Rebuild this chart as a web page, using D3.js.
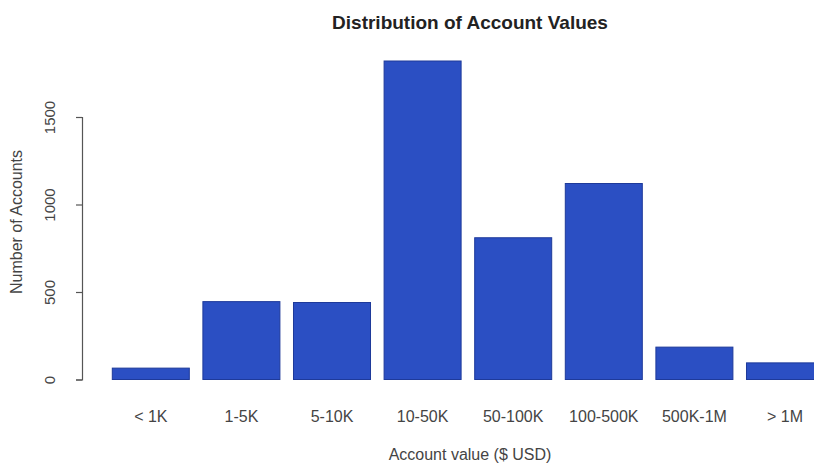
<!DOCTYPE html>
<html><head><meta charset="utf-8">
<script src="https://cdn.jsdelivr.net/npm/d3@7"></script>
<style>body{margin:0;background:#fff}svg{display:block}text{font-family:"Liberation Sans",Arial,sans-serif}</style>
</head><body>
<svg id="c" width="814" height="464"></svg>
<script>
const categories = ["< 1K","1-5K","5-10K","10-50K","50-100K","100-500K","500K-1M","> 1M"];
const counts = [65, 445, 440, 1820, 810, 1120, 185, 95];
const yTicks = [0, 500, 1000, 1500];
const title = "Distribution of Account Values";
const xTitle = "Account value ($ USD)";
const yTitle = "Number of Accounts";

const svg = d3.select("#c");
const x = d3.scaleBand().domain(categories).range([105.5, 830.3]).paddingInner(0.15).paddingOuter(0.075);
const y = d3.scaleLinear().domain([0, 1500]).range([379.5, 117]);

svg.append("g").selectAll("rect").data(categories).join("rect")
  .attr("x", d => x(d)).attr("width", x.bandwidth())
  .attr("y", (d,i) => y(counts[i])).attr("height", (d,i) => y(0) - y(counts[i]))
  .attr("fill", "#2b4fc3").attr("stroke", "#1e3a9a").attr("stroke-width", 1);

const yAxis = svg.append("g").attr("transform", "translate(82,0)")
  .call(d3.axisLeft(y).tickValues(yTicks).tickFormat(d3.format("d")).tickSize(6).tickSizeOuter(6));
yAxis.select(".domain").attr("stroke", "#555").attr("stroke-width", 1.2);
yAxis.selectAll(".tick line").attr("stroke", "#555").attr("stroke-width", 1.2);
yAxis.selectAll(".tick text").attr("transform", "rotate(-90)").attr("x", 0).attr("y", -27)
  .attr("dy", "0").attr("text-anchor", "middle").attr("font-size", 15).attr("fill", "#444");

const xAxis = svg.append("g").attr("transform", "translate(0,400)")
  .call(d3.axisBottom(x).tickSize(0).tickPadding(0));
xAxis.select(".domain").remove();
xAxis.selectAll(".tick text").attr("font-size", 16).attr("fill", "#444").attr("dy", "0.35em").attr("y", 16);

svg.append("text").attr("x", 470).attr("y", 29).attr("text-anchor", "middle")
  .attr("font-weight", "bold").attr("font-size", 19).attr("fill", "#222").text(title);
svg.append("text").attr("x", 470).attr("y", 454).attr("dy", "0.35em").attr("text-anchor", "middle")
  .attr("font-size", 16).attr("fill", "#444").text(xTitle);
svg.append("text").attr("transform", "translate(16,222) rotate(-90)").attr("dy", "0.35em")
  .attr("text-anchor", "middle").attr("font-size", 16).attr("fill", "#444").text(yTitle);
</script>
</body></html>
